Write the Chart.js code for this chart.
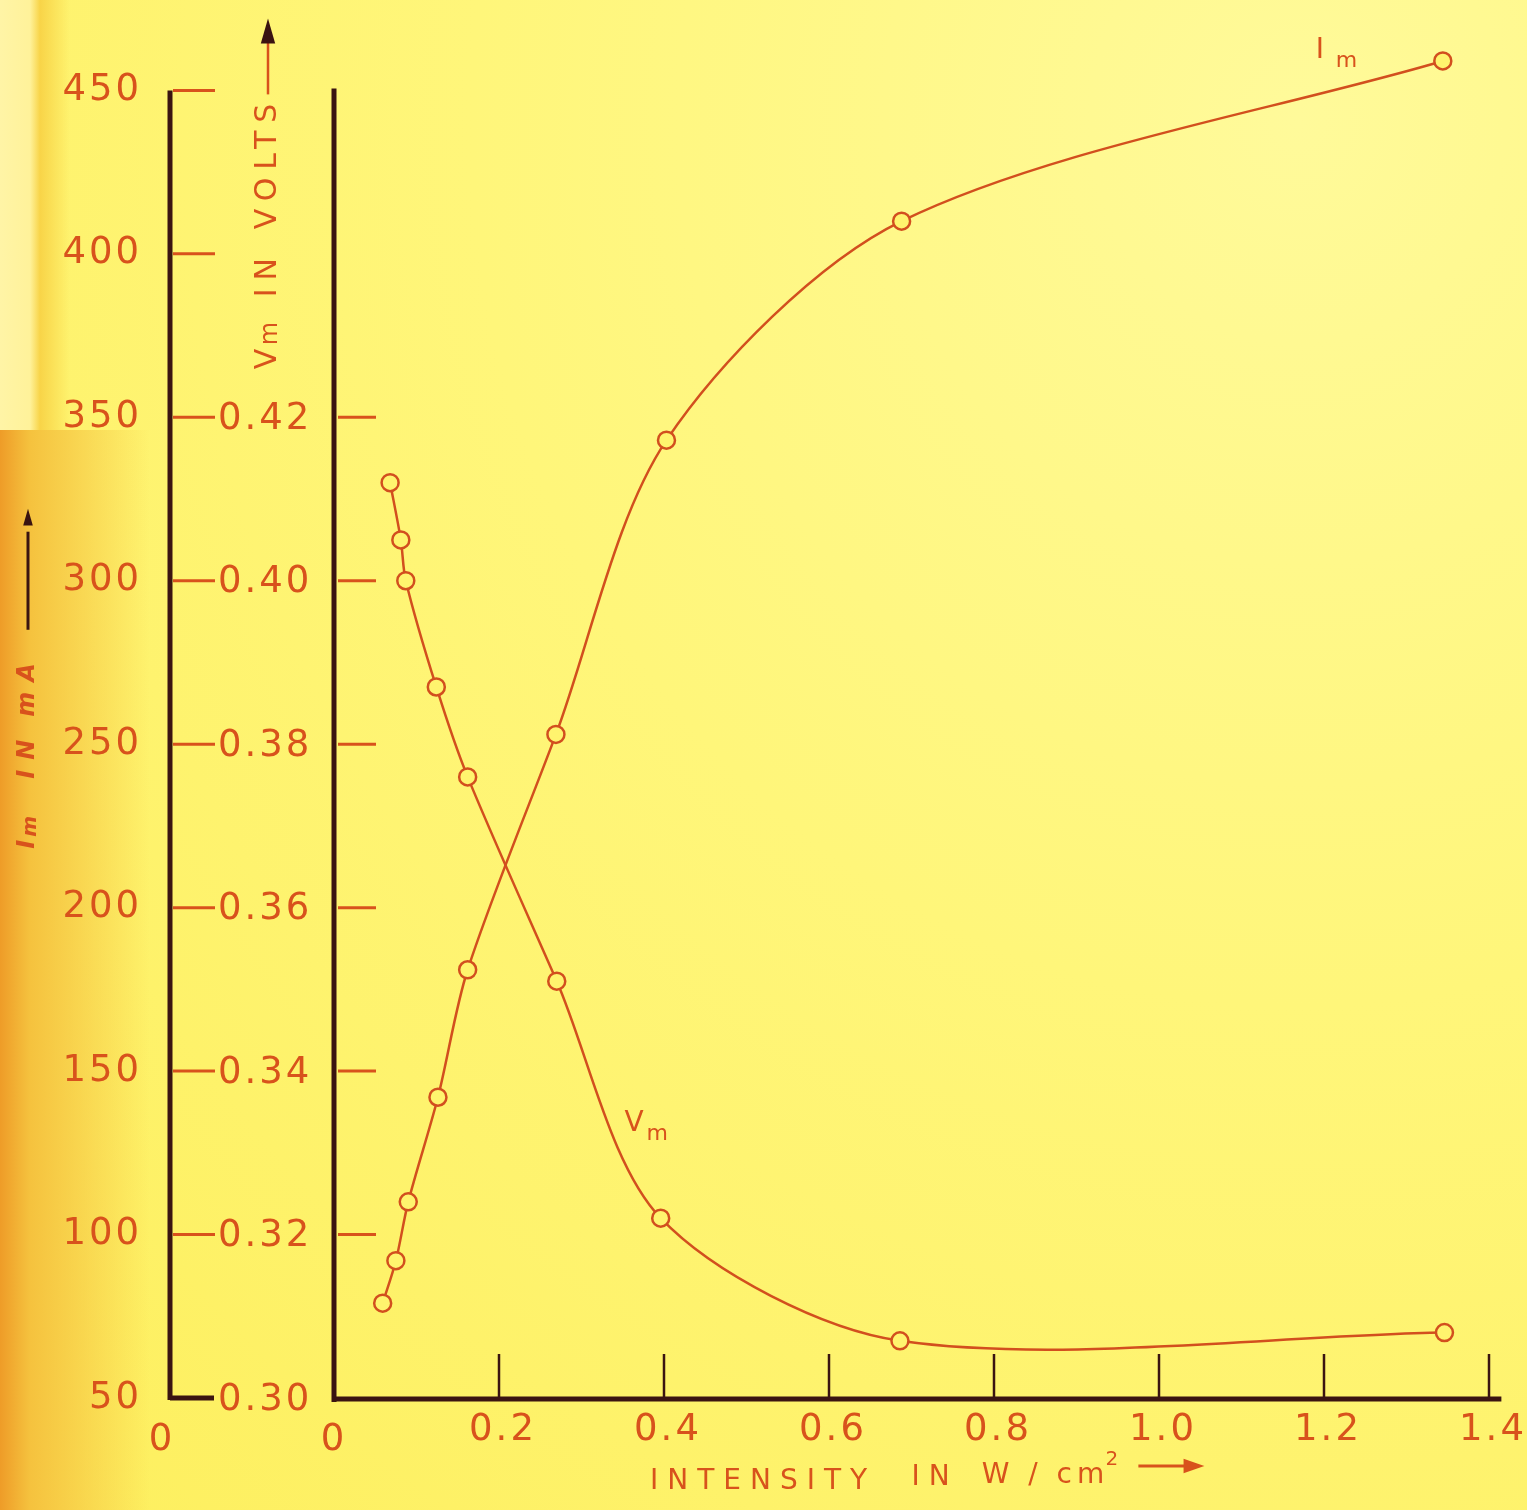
<!DOCTYPE html>
<html>
<head>
<meta charset="utf-8">
<script src="https://cdn.jsdelivr.net/npm/chart.js@4.4.1/dist/chart.umd.min.js"></script>
<style>
  html, body { margin: 0; padding: 0; }
  body {
    width: 1527px;
    height: 1510px;
    overflow: hidden;
    background:
      linear-gradient(to right, #ee9c28 0px, #f5c23e 30px, rgba(255, 240, 100, 0) 150px) 0 430px / 170px 1080px no-repeat,
      linear-gradient(to right, #fff4a6 0px, #fff29a 30px, #f8d448 40px, rgba(255, 240, 100, 0) 70px) 0 0 / 80px 430px no-repeat,
      radial-gradient(ellipse at 85% 8%, #fffa9a 0%, #fff67a 45%, #fdef5e 100%);
  }
  canvas { display: block; }
</style>
</head>
<body>
<canvas id="chart" width="1527" height="1510"></canvas>
<script>
// I_m curve: intensity (W/cm2) and current (mA)
const intensityIm = [0.059, 0.075, 0.090, 0.126, 0.162, 0.269, 0.403, 0.688, 1.344];
const currentIm = [79, 92, 110, 142, 181, 253, 343, 410, 459];

// V_m curve: intensity (W/cm2) and voltage (V)
const intensityVm = [0.068, 0.081, 0.087, 0.124, 0.162, 0.270, 0.396, 0.686, 1.346];
const voltageVm = [0.412, 0.405, 0.400, 0.387, 0.376, 0.351, 0.322, 0.307, 0.308];

// tick values and labels
const currentTicks = [50, 100, 150, 200, 250, 300, 350, 400, 450];
const currentTickLabels = ["50", "100", "150", "200", "250", "300", "350", "400", "450"];
const voltageTicks = [0.30, 0.32, 0.34, 0.36, 0.38, 0.40, 0.42];
const voltageTickLabels = ["0.30", "0.32", "0.34", "0.36", "0.38", "0.40", "0.42"];
const intensityTicks = [0.2, 0.4, 0.6, 0.8, 1.0, 1.2, 1.4];
const intensityTickLabels = ["0.2", "0.4", "0.6", "0.8", "1.0", "1.2", "1.4"];

const INK = "#d8521c";
const CURVE = "#d24f1e";
const AXIS = "#3a1411";
const FONT = "'DejaVu Sans', sans-serif";

function toPoints(xs, ys) {
  return xs.map((x, i) => ({ x: x, y: ys[i] }));
}

function strokeLine(ctx, x1, y1, x2, y2) {
  ctx.beginPath();
  ctx.moveTo(x1, y1);
  ctx.lineTo(x2, y2);
  ctx.stroke();
}

function arrowHead(ctx, x, y, dir, size) {
  // dir: "up" or "right", (x, y) is the tip
  ctx.beginPath();
  if (dir === "up") {
    ctx.moveTo(x, y);
    ctx.lineTo(x - size * 0.4, y + size * 1.4);
    ctx.lineTo(x + size * 0.4, y + size * 1.4);
  } else {
    ctx.moveTo(x, y);
    ctx.lineTo(x - size * 1.3, y - size * 0.45);
    ctx.lineTo(x - size * 1.3, y + size * 0.45);
  }
  ctx.closePath();
  ctx.fill();
}

const paperAxes = {
  id: "paperAxes",
  beforeDatasetsDraw(chart) {
    const { ctx, scales } = chart;
    const x = scales.x, im = scales.im, vm = scales.vm;
    const x0 = x.getPixelForValue(0);
    const yTop = im.getPixelForValue(450);
    const yBase = im.getPixelForValue(50);
    const outerX = x0 - 164;

    ctx.save();
    ctx.lineCap = "butt";

    // axis lines
    ctx.strokeStyle = AXIS;
    ctx.lineWidth = 5;
    strokeLine(ctx, outerX, yTop, outerX, yBase + 2);
    strokeLine(ctx, x0, yTop - 2, x0, yBase + 4);
    strokeLine(ctx, x0 - 2, yBase + 1, x.getPixelForValue(1.415), yBase + 1);

    // outer axis ticks
    currentTicks.forEach((v) => {
      const y = im.getPixelForValue(v);
      if (v === 50) {
        ctx.strokeStyle = AXIS;
        ctx.lineWidth = 5;
        strokeLine(ctx, outerX, y, outerX + 44, y);
      } else {
        ctx.strokeStyle = INK;
        ctx.lineWidth = 3;
        strokeLine(ctx, outerX + 3, y, outerX + 45, y);
      }
    });

    // main axis ticks (voltage positions above the origin)
    ctx.strokeStyle = INK;
    ctx.lineWidth = 3;
    voltageTicks.slice(1).forEach((v) => {
      const y = vm.getPixelForValue(v);
      strokeLine(ctx, x0 + 4, y, x0 + 42, y);
    });

    // x ticks pointing up
    ctx.strokeStyle = AXIS;
    ctx.lineWidth = 2.5;
    intensityTicks.forEach((v) => {
      const px = x.getPixelForValue(v);
      strokeLine(ctx, px, yBase, px, yBase - 44);
    });

    ctx.restore();
  },
  afterDraw(chart) {
    const { ctx, scales } = chart;
    const x = scales.x, im = scales.im, vm = scales.vm;
    const x0 = x.getPixelForValue(0);
    const yTop = im.getPixelForValue(450);
    const yBase = im.getPixelForValue(50);
    const outerX = x0 - 164;

    ctx.save();
    ctx.fillStyle = INK;
    ctx.strokeStyle = INK;
    ctx.textBaseline = "middle";
    ctx.font = "37px " + FONT;
    ctx.letterSpacing = "3px";

    // current labels
    ctx.textAlign = "right";
    currentTicks.forEach((v, i) => {
      ctx.fillText(currentTickLabels[i], outerX - 28, im.getPixelForValue(v));
    });

    // voltage labels
    ctx.textAlign = "left";
    voltageTicks.forEach((v, i) => {
      ctx.fillText(voltageTickLabels[i], outerX + 48, vm.getPixelForValue(v) + 2);
    });

    // intensity labels
    ctx.textAlign = "center";
    intensityTicks.forEach((v, i) => {
      ctx.fillText(intensityTickLabels[i], x.getPixelForValue(v) + 4, yBase + 32);
    });
    ctx.fillText("0", x0, yBase + 42);
    ctx.fillText("0", outerX - 8, yBase + 42);

    // V_m axis title, rotated
    const vTitleX = outerX + 98;
    ctx.save();
    ctx.translate(vTitleX, im.getPixelForValue(350) - 48);
    ctx.rotate(-Math.PI / 2);
    ctx.textAlign = "left";
    ctx.letterSpacing = "8px";
    ctx.font = "30px " + FONT;
    ctx.fillText("V", 0, 0);
    ctx.font = "24px " + FONT;
    ctx.fillText("m", 24, 3);
    ctx.font = "30px " + FONT;
    ctx.fillText("IN", 72, 0);
    ctx.fillText("VOLTS", 140, 0);
    ctx.restore();
    ctx.lineWidth = 2.5;
    strokeLine(ctx, vTitleX, yTop + 4, vTitleX, yTop - 48);
    ctx.fillStyle = AXIS;
    arrowHead(ctx, vTitleX, yTop - 72, "up", 18);
    ctx.fillStyle = INK;

    // I_m axis title, rotated
    const iTitleX = outerX - 142;
    ctx.save();
    ctx.translate(iTitleX, im.getPixelForValue(218));
    ctx.rotate(-Math.PI / 2);
    ctx.textAlign = "left";
    ctx.letterSpacing = "10px";
    ctx.font = "italic bold 24px " + FONT;
    ctx.fillText("I", 0, 0);
    ctx.font = "italic bold 20px " + FONT;
    ctx.fillText("m", 12, 3);
    ctx.font = "italic bold 24px " + FONT;
    ctx.fillText("IN", 70, 0);
    ctx.fillText("mA", 132, 0);
    ctx.restore();
    ctx.strokeStyle = AXIS;
    ctx.fillStyle = AXIS;
    ctx.lineWidth = 3;
    strokeLine(ctx, iTitleX, im.getPixelForValue(285), iTitleX, im.getPixelForValue(315));
    arrowHead(ctx, iTitleX, im.getPixelForValue(322), "up", 12);
    ctx.strokeStyle = INK;
    ctx.fillStyle = INK;

    // x axis title
    ctx.textAlign = "left";
    ctx.letterSpacing = "9px";
    ctx.font = "28px " + FONT;
    const titleY = yBase + 84;
    ctx.fillText("INTENSITY", x.getPixelForValue(0.383), titleY);
    ctx.fillText("IN", x.getPixelForValue(0.70), titleY - 4);
    ctx.letterSpacing = "5px";
    ctx.fillText("W / cm", x.getPixelForValue(0.785), titleY - 6);
    ctx.font = "20px " + FONT;
    ctx.fillText("2", x.getPixelForValue(0.935), titleY - 22);
    ctx.lineWidth = 3;
    const arrowY = titleY - 16;
    strokeLine(ctx, x.getPixelForValue(0.975), arrowY, x.getPixelForValue(1.035), arrowY);
    arrowHead(ctx, x.getPixelForValue(1.055), arrowY, "right", 16);

    // curve labels
    ctx.letterSpacing = "0px";
    ctx.font = "28px " + FONT;
    const imLabelX = x.getPixelForValue(1.19);
    const imLabelY = im.getPixelForValue(462);
    ctx.fillText("I", imLabelX, imLabelY);
    ctx.font = "22px " + FONT;
    ctx.fillText("m", imLabelX + 20, imLabelY + 10);
    ctx.font = "28px " + FONT;
    const vmLabelX = x.getPixelForValue(0.352);
    const vmLabelY = vm.getPixelForValue(0.3335);
    ctx.fillText("V", vmLabelX, vmLabelY);
    ctx.font = "22px " + FONT;
    ctx.fillText("m", vmLabelX + 22, vmLabelY + 10);

    ctx.restore();
  }
};

const sharedLine = {
  borderColor: CURVE,
  borderWidth: 2.5,
  pointRadius: 8.5,
  pointBorderWidth: 2.5,
  pointBorderColor: CURVE,
  pointBackgroundColor: "#fff46e",
  pointHoverRadius: 8.5,
  tension: 0.3,
  fill: false,
  showLine: true
};

new Chart(document.getElementById("chart"), {
  type: "line",
  data: {
    datasets: [
      Object.assign({ label: "Im", data: toPoints(intensityIm, currentIm), yAxisID: "im" }, sharedLine),
      Object.assign({ label: "Vm", data: toPoints(intensityVm, voltageVm), yAxisID: "vm" }, sharedLine)
    ]
  },
  options: {
    responsive: false,
    animation: false,
    devicePixelRatio: 1,
    layout: {
      padding: { left: 334, right: 38, top: 25, bottom: 112 }
    },
    plugins: {
      legend: { display: false },
      tooltip: { enabled: false }
    },
    scales: {
      x: { type: "linear", min: 0, max: 1.4, display: false },
      im: { type: "linear", position: "left", min: 50, max: 470, display: false },
      vm: { type: "linear", position: "left", min: 0.30, max: 0.468, display: false }
    }
  },
  plugins: [paperAxes]
});
</script>
</body>
</html>
